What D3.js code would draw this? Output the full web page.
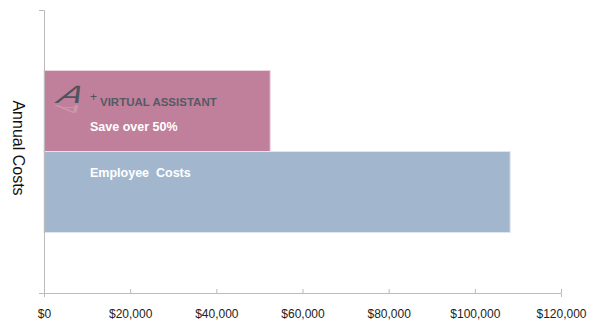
<!DOCTYPE html>
<html>
<head>
<meta charset="utf-8">
<script src="https://cdn.jsdelivr.net/npm/d3@7"></script>
<style>
  body { margin: 0; background: #fff; }
  text { font-family: "Liberation Sans", Arial, sans-serif; }
</style>
</head>
<body>
<svg id="chart"></svg>
<script>
const W = 600;
const H = 330;

// data
const categories = ["Annual Costs"];
const seriesNames = ["Virtual Assistant", "Employee Costs"];
const seriesValues = [52500, 108200];
const seriesColors = ["#c0809b", "#a2b7ce"];
const tickValues = [0, 20000, 40000, 60000, 80000, 100000, 120000];

const margin = { top: 10, right: 39, bottom: 37, left: 44 };

window.addEventListener("load", () => {
	let svg = d3.select("#chart").attr("width", W).attr("height", H);

	let x = d3.scaleLinear().domain([0, 120000]).range([margin.left, W - margin.right]);
	let yCat = d3.scaleBand().domain(categories).range([margin.top, H - margin.bottom]).paddingInner(0).paddingOuter(0.373);
	let ySer = d3.scaleBand().domain(seriesNames).range([0, yCat.bandwidth()]);

	// bars
	svg.selectAll("rect.bar").data(seriesValues).enter().append("rect")
		.attr("class", "bar")
		.attr("x", x(0))
		.attr("y", (d, i) => yCat(categories[0]) + ySer(seriesNames[i]))
		.attr("width", d => x(d) - x(0))
		.attr("height", ySer.bandwidth())
		.attr("fill", (d, i) => seriesColors[i])
		.attr("stroke", (d, i) => i == 0 ? "#f0d6e2" : "#dde6f0")
		.attr("stroke-width", 1);

	// x axis
	let xAxis = svg.append("g")
		.attr("transform", "translate(0," + (H - margin.bottom) + ")")
		.call(d3.axisBottom(x).tickValues(tickValues).tickSize(4).tickFormat(d => "$" + d3.format(",")(d)));
	xAxis.select(".domain").attr("stroke", "#bbb");
	xAxis.selectAll(".tick line").attr("stroke", "#bbb").attr("y1", -4).attr("y2", 0);
	xAxis.selectAll(".tick text").attr("fill", "#222").attr("font-size", 12).attr("y", 16)
		.attr("font-family", "'Liberation Sans', Arial, sans-serif");

	// y axis
	let yAxis = svg.append("g")
		.attr("transform", "translate(" + x(0) + ",0)")
		.call(d3.axisLeft(d3.scaleLinear().range([margin.top, H - margin.bottom])).tickValues([0, 1]).tickSize(5).tickFormat(""));
	yAxis.select(".domain").attr("stroke", "#bbb");
	yAxis.selectAll(".tick line").attr("stroke", "#bbb");

	svg.append("text")
		.attr("transform", "translate(13,148) rotate(90)")
		.attr("text-anchor", "middle")
		.attr("font-size", 16)
		.attr("fill", "#111")
		.text("Annual Costs");

	// logo inside the first bar
	let y0 = yCat(categories[0]) + ySer(seriesNames[0]);
	let logo = svg.append("g").attr("transform", "translate(0," + y0 + ")");
	logo.append("text")
		.attr("transform", "translate(56,33) skewX(-22) scale(1.45,1)")
		.attr("font-family", "'DejaVu Serif', serif").attr("font-style", "italic")
		.attr("font-size", 25).attr("fill", "#4f545c")
		.text("A");
	logo.append("text")
		.attr("x", 90).attr("y", 31)
		.attr("font-family", "'DejaVu Sans', sans-serif")
		.attr("font-size", 12).attr("fill", "#4f545c")
		.text("+");
	// faint reflection
	logo.append("text")
		.attr("transform", "translate(56,35) skewX(22) scale(1.45,-0.45)")
		.attr("font-family", "'DejaVu Serif', serif").attr("font-style", "italic")
		.attr("font-size", 25).attr("fill", "#ffffff").attr("opacity", 0.18)
		.text("A");
	logo.append("text")
		.attr("x", 100).attr("y", 36)
		.attr("font-size", 11.5).attr("font-weight", "bold").attr("fill", "#555a63")
		.text("VIRTUAL ASSISTANT");

	// series labels
	svg.selectAll("text.lbl").data(["Save over 50%", "Employee  Costs"]).enter().append("text")
		.attr("class", "lbl")
		.attr("x", 90)
		.attr("y", (d, i) => yCat(categories[0]) + ySer(seriesNames[i]) + (i == 0 ? 61 : 25))
		.attr("font-size", 12.5).attr("font-weight", "bold").attr("fill", "#fff")
		.attr("xml:space", "preserve").style("white-space", "pre")
		.text(d => d);
});
</script>
</body>
</html>
